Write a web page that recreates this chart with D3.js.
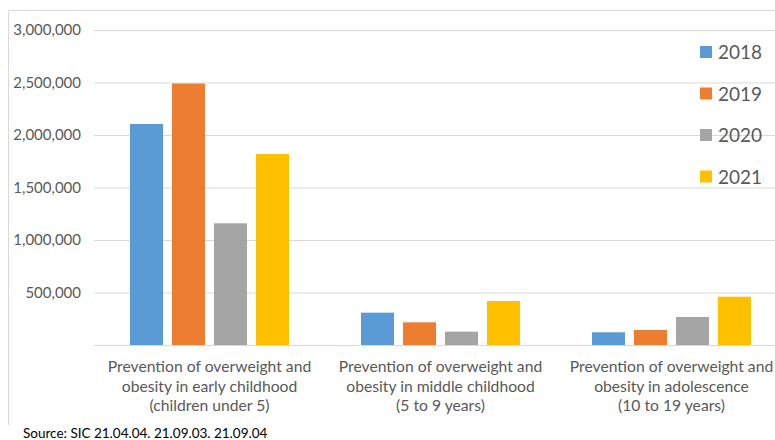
<!DOCTYPE html>
<html>
<head>
<meta charset="utf-8">
<script src="https://cdn.jsdelivr.net/npm/d3@7"></script>
<style>
  body { margin: 0; background: #fff; }
  text { font-family: Lato, "Open Sans", sans-serif; }
</style>
</head>
<body>
<div id="chart"></div>
<script>

// categories and series
var categories = [
  ["Prevention of overweight and", "obesity in early childhood", "(children under 5)"],
  ["Prevention of overweight and", "obesity in middle childhood", "(5 to 9 years)"],
  ["Prevention of overweight and", "obesity in adolescence", "(10 to 19 years)"]
];
var years = ["2018", "2019", "2020", "2021"];
var colors = ["#5b9bd5", "#ed7d31", "#a5a5a5", "#ffc000"];

var values2018 = [2105000, 308000, 121000];
var values2019 = [2490000, 216000, 143000];
var values2020 = [1159000, 127000, 267000];
var values2021 = [1819000, 419000, 460000];

var yTicks = [500000, 1000000, 1500000, 2000000, 2500000, 3000000];
var sourceText = "Source: SIC 21.04.04. 21.09.03. 21.09.04";

var series = [values2018, values2019, values2020, values2021];

var width = 775, height = 440;
var margin = {top: 30, right: -12, bottom: 95, left: 94};

var svg = d3.select("#chart")
  .append("svg")
    .attr("width", width)
    .attr("height", height);

// outer frame (left + top only are visible)
svg.append("path")
  .attr("d", "M8.5,425 V10.5 H775")
  .attr("fill", "none")
  .attr("stroke", "#d9d9d9");

var x0 = d3.scaleBand()
  .domain(d3.range(categories.length))
  .range([margin.left, width - margin.right]);

var x1 = d3.scaleBand()
  .domain(years)
  .range([36, x0.bandwidth() - 36])
  .paddingInner(0.214);

var y = d3.scaleLinear()
  .domain([0, 3000000])
  .range([height - margin.bottom, margin.top]);

// gridlines
var yAxis = svg.append("g")
  .attr("transform", "translate(" + margin.left + ",0)")
  .call(d3.axisLeft(y)
    .tickValues(yTicks)
    .tickSize(-(width - margin.right - margin.left))
    .tickPadding(13)
    .tickFormat(d3.format(",")));
yAxis.select(".domain").remove();
yAxis.selectAll(".tick line").attr("stroke", "#d9d9d9");
yAxis.selectAll(".tick text")
  .attr("fill", "#595959")
  .style("font-size", "15px");

// bars
var groups = svg.selectAll("g.group")
  .data(categories)
  .enter()
  .append("g")
    .attr("class", "group")
    .attr("transform", function(d, i) { return "translate(" + x0(i) + ",0)"; });

groups.selectAll("rect")
  .data(function(d, i) {
    return years.map(function(yr, j) { return {year: yr, value: series[j][i], color: colors[j]}; });
  })
  .enter()
  .append("rect")
    .attr("x", function(d) { return x1(d.year); })
    .attr("y", function(d) { return y(d.value); })
    .attr("width", x1.bandwidth())
    .attr("height", function(d) { return y(0) - y(d.value); })
    .attr("fill", function(d) { return d.color; });

// x axis line
svg.append("line")
  .attr("x1", margin.left)
  .attr("x2", width)
  .attr("y1", y(0) + 0.5)
  .attr("y2", y(0) + 0.5)
  .attr("stroke", "#d9d9d9");

// category labels
groups.append("text")
  .attr("text-anchor", "middle")
  .attr("fill", "#595959")
  .style("font-size", "15.7px")
  .selectAll("tspan")
  .data(function(d) { return d; })
  .enter()
  .append("tspan")
    .attr("x", x0.bandwidth() / 2)
    .attr("y", function(d, i) { return 372 + i * 19.5; })
    .text(function(d) { return d; });

// legend
var legend = svg.selectAll("g.legend")
  .data(years)
  .enter()
  .append("g")
    .attr("class", "legend")
    .attr("transform", function(d, i) { return "translate(700," + (52 + i * 41.5) + ")"; });

legend.append("rect")
  .attr("x", 0)
  .attr("y", -6)
  .attr("width", 12)
  .attr("height", 12)
  .attr("fill", function(d, i) { return colors[i]; });

legend.append("text")
  .attr("x", 18)
  .attr("y", 7)
  .attr("fill", "#595959")
  .style("font-size", "19px")
  .text(function(d) { return d; });

// source
svg.append("text")
  .attr("x", 23)
  .attr("y", 438)
  .attr("fill", "#000")
  .style("font-size", "13.5px")
  .text(sourceText);

</script>
</body>
</html>
